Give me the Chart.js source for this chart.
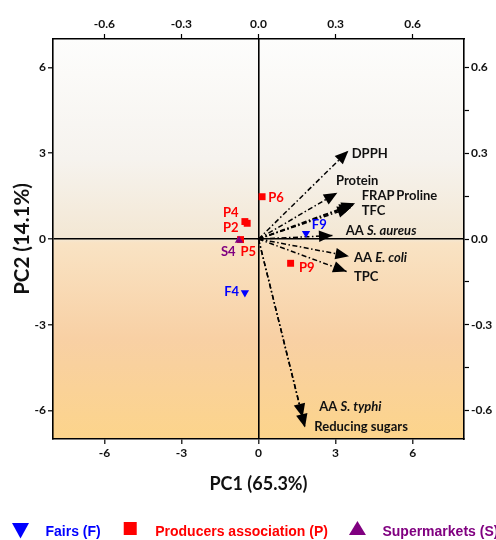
<!DOCTYPE html>
<html>
<head>
<meta charset="utf-8">
<script src="https://cdn.jsdelivr.net/npm/chart.js@4.4.1/dist/chart.umd.min.js"></script>
<style>
  html, body { margin: 0; padding: 0; background: #ffffff; }
  #wrap { width: 496px; height: 540px; position: relative; }
</style>
</head>
<body>
<div id="wrap"><canvas id="c" width="496" height="540"></canvas></div>
<script>
// ---------- DATA ----------
const pc1Ticks = [-6, -3, 0, 3, 6];
const pc2Ticks = [-6, -3, 0, 3, 6];
const loadXTicks = [-0.6, -0.3, 0, 0.3, 0.6];
const loadYTicks = [0.6, 0.45, 0.3, 0.15, 0, -0.15, -0.3, -0.45, -0.6];
const loadYMajor = [0.6, 0.3, 0, -0.3, -0.6];

const groupNames = ['Fairs (F)', 'Producers association (P)', 'Supermarkets (S)'];

const fairsNames = ['F9', 'F4'];
const fairsPC1 = [1.85, -0.53];
const fairsPC2 = [0.20, -1.88];

const prodNames = ['P6', 'P4', 'P2', 'P5', 'P9'];
const prodPC1 = [0.14, -0.53, -0.44, -0.70, 1.25];
const prodPC2 = [1.48, 0.61, 0.55, -0.02, -0.85];

const superNames = ['S4'];
const superPC1 = [-0.76];
const superPC2 = [-0.05];

const varNames = ['DPPH', 'Protein', 'FRAP', 'Proline', 'TFC', 'AA *S. aureus*', 'AA *E. coli*', 'TPC', 'AA *S. typhi*', 'Reducing sugars'];
const varPC1 = [0.350, 0.307, 0.376, 0.368, 0.360, 0.288, 0.352, 0.343, 0.172, 0.181];
const varPC2 = [0.309, 0.162, 0.125, 0.118, 0.110, 0.012, -0.060, -0.114, -0.624, -0.660];

// ---------- STYLE (label offsets in px) ----------
const varLabelOffset = {
  'DPPH': [3.3, 3.3], 'Protein': [-1.4, -12], 'FRAP': [6.6, -7.6], 'Proline': [43.3, -9.6],
  'TFC': [10.7, 3.1], 'AA *S. aureus*': [13.2, -4.9], 'AA *E. coli*': [5.1, 1.6],
  'TPC': [7.4, 5.1], 'AA *S. typhi*': [16.6, -10.6], 'Reducing sugars': [9.3, -0.9]
};
const pointLabelOffset = {
  'F9': [13.3, -8.3], 'F4': [-13.2, -1], 'P6': [14, 0.6], 'P4': [-14.2, -8.3],
  'P2': [-16.5, 5], 'P5': [7.8, 12.1], 'P9': [16.1, 5], 'S4': [-10.7, 11.3]
};
const colBlue = '#0000ff', colRed = '#ff0000', colPurple = '#800080';
const FONT = 'Lato, "Open Sans", sans-serif';

function pts(xs, ys) { return xs.map((x, i) => ({ x: x, y: ys[i] })); }

const datasets = [];
datasets.push({ label: groupNames[2], names: superNames, data: pts(superPC1, superPC2), pointStyle: 'triangle', rotation: 0, pointRadius: 4.8, backgroundColor: colPurple, borderColor: colPurple, borderWidth: 0, order: 1, group: true });
datasets.push({ label: groupNames[0], names: fairsNames, data: pts(fairsPC1, fairsPC2), pointStyle: 'triangle', rotation: 180, pointRadius: 4.8, backgroundColor: colBlue, borderColor: colBlue, borderWidth: 0, order: 2, group: true });
datasets.push({ label: groupNames[1], names: prodNames, data: pts(prodPC1, prodPC2), pointStyle: 'rect', pointRadius: 4.9, backgroundColor: colRed, borderColor: colRed, borderWidth: 0, order: 3, group: true });
varNames.forEach((n, i) => {
  datasets.push({ label: n, vector: true, data: [{ x: 0, y: 0 }, { x: varPC1[i], y: varPC2[i] }], xAxisID: 'x2', yAxisID: 'y2', showLine: true, pointRadius: 0, borderColor: '#000', borderWidth: 1.5, borderDash: [5, 2.5, 1.5, 2.5], order: 10 });
});

// ---------- PLUGINS ----------
const bgPlugin = {
  id: 'bg',
  beforeDraw(chart) {
    const { ctx, chartArea: a } = chart;
    const g = ctx.createLinearGradient(0, a.top, 0, a.bottom);
    g.addColorStop(0, '#fdfdfc');
    g.addColorStop(0.3, '#f6f3ee');
    g.addColorStop(0.5, '#f3e7d3');
    g.addColorStop(0.51, '#f9e3c4');
    g.addColorStop(0.75, '#f8d0a4');
    g.addColorStop(1, '#fcd48b');
    ctx.save();
    ctx.fillStyle = g;
    ctx.fillRect(a.left, a.top, a.right - a.left, a.bottom - a.top);
    ctx.restore();
  }
};

function drawRich(ctx, text, x, y, size) {
  const parts = text.split('*');
  let cx = x;
  parts.forEach((p, i) => {
    if (!p) return;
    ctx.font = (i % 2 === 1 ? 'italic ' : '') + 'bold ' + size + 'px ' + FONT;
    ctx.fillText(p, cx, y);
    cx += ctx.measureText(p).width;
  });
}

const overlayPlugin = {
  id: 'overlay',
  afterDatasetsDraw(chart) {
    const ctx = chart.ctx;
    ctx.save();
    chart.data.datasets.forEach((ds, di) => {
      const meta = chart.getDatasetMeta(di);
      if (ds.vector) {
        const p0 = meta.data[0], p1 = meta.data[1];
        const ang = Math.atan2(p1.y - p0.y, p1.x - p0.x);
        const L = 13.5, W = 5.8;
        ctx.fillStyle = '#000';
        ctx.beginPath();
        ctx.moveTo(p1.x, p1.y);
        ctx.lineTo(p1.x - L * Math.cos(ang) + W * Math.sin(ang), p1.y - L * Math.sin(ang) - W * Math.cos(ang));
        ctx.lineTo(p1.x - L * Math.cos(ang) - W * Math.sin(ang), p1.y - L * Math.sin(ang) + W * Math.cos(ang));
        ctx.closePath();
        ctx.fill();
        const off = varLabelOffset[ds.label] || [6, 0];
        ctx.fillStyle = '#111';
        ctx.textAlign = 'left';
        ctx.textBaseline = 'middle';
        drawRich(ctx, ds.label, p1.x + off[0], p1.y + off[1], 13);
      }
    });
    chart.data.datasets.forEach((ds, di) => {
      if (!ds.group) return;
      const meta = chart.getDatasetMeta(di);
      ctx.fillStyle = ds.backgroundColor;
      ctx.font = 'bold 13px ' + FONT;
      ctx.textAlign = 'center';
      ctx.textBaseline = 'middle';
      meta.data.forEach((el, k) => {
        const n = ds.names[k];
        const off = pointLabelOffset[n] || [10, 0];
        ctx.fillText(n, el.x + off[0], el.y + off[1]);
      });
    });
    ctx.restore();
  },
  afterDraw(chart) {
    const ctx = chart.ctx;
    const order = [groupNames[0], groupNames[1], groupNames[2]];
    const items = order.map(name => chart.data.datasets.find(d => d.group && d.label === name));
    ctx.save();
    ctx.font = 'bold 14px "Liberation Sans", Arial, sans-serif';
    const toText = 25, toNext = 29.5;
    let mc = 20.5;
    const yc = 531;
    items.forEach((d) => {
      const cx = mc;
      ctx.fillStyle = d.backgroundColor;
      ctx.beginPath();
      if (d.pointStyle === 'rect') {
        ctx.rect(cx - 6.5, yc - 9, 13, 13);
      } else if (d.rotation === 180) {
        ctx.moveTo(cx - 8.5, yc - 8); ctx.lineTo(cx + 8.5, yc - 8); ctx.lineTo(cx, yc + 7.5);
      } else {
        ctx.moveTo(cx - 8.5, yc + 4); ctx.lineTo(cx + 8.5, yc + 4); ctx.lineTo(cx, yc - 10);
      }
      ctx.closePath();
      ctx.fill();
      ctx.textAlign = 'left';
      ctx.textBaseline = 'middle';
      ctx.fillText(d.label, cx + toText, yc + 1);
      mc = cx + toText + ctx.measureText(d.label).width + toNext;
    });
    ctx.restore();
  }
};

function setTicks(vals) { return scale => { scale.ticks = vals.map(v => ({ value: v })); }; }
const tickFont = { family: FONT, size: 12, weight: 'bold' };
const borderOpt = { display: true, color: '#000', width: 1.6 };

new Chart(document.getElementById('c'), {
  type: 'scatter',
  data: { datasets: datasets },
  options: {
    responsive: false,
    animation: false,
    devicePixelRatio: 1,
    layout: { padding: { left: 0, right: 0, top: 0, bottom: 41 } },
    plugins: { legend: { display: false }, tooltip: { enabled: false } },
    scales: {
      x: {
        type: 'linear', position: 'bottom', min: -8, max: 8,
        afterBuildTicks: setTicks(pc1Ticks),
        afterFit: s => { s.height = 60; },
        ticks: { font: tickFont, color: '#111', padding: 2, maxRotation: 0, callback: v => String(v) },
        grid: { color: c => (c.tick && c.tick.value === 0 ? '#000' : 'rgba(0,0,0,0)'), lineWidth: 1.6, tickColor: '#000', tickLength: 5, tickWidth: 1.2 },
        border: borderOpt,
        title: { display: true, text: 'PC1 (65.3%)', color: '#111', font: { family: FONT, size: 18, weight: 'bold' }, padding: { top: 0, bottom: 4 } }
      },
      y: {
        type: 'linear', position: 'left', min: -7, max: 7,
        afterBuildTicks: setTicks(pc2Ticks),
        afterFit: s => { s.width = 53; },
        ticks: { font: tickFont, color: '#111', padding: 2, callback: v => String(v) },
        grid: { color: c => (c.tick && c.tick.value === 0 ? '#000' : 'rgba(0,0,0,0)'), lineWidth: 1.6, tickColor: '#000', tickLength: 5, tickWidth: 1.2 },
        border: borderOpt,
        title: { display: true, text: 'PC2 (14.1%)', color: '#111', font: { family: FONT, size: 20.5, weight: 'bold' }, padding: { top: 10, bottom: 0 } }
      },
      x2: {
        type: 'linear', position: 'top', min: -0.8, max: 0.8,
        afterBuildTicks: setTicks(loadXTicks),
        afterFit: s => { s.height = 39; },
        ticks: { font: tickFont, color: '#111', padding: 3, maxRotation: 0, callback: v => Number(v).toFixed(1) },
        grid: { drawOnChartArea: false, tickColor: '#000', tickLength: 5, tickWidth: 1.2 },
        border: borderOpt
      },
      y2: {
        type: 'linear', position: 'right', min: -0.7, max: 0.7,
        afterBuildTicks: setTicks(loadYTicks),
        afterFit: s => { s.width = 32; },
        ticks: { font: tickFont, color: '#111', padding: 2, callback: v => (loadYMajor.some(m => Math.abs(m - v) < 1e-9) ? Number(v).toFixed(1) : '') },
        grid: { drawOnChartArea: false, tickColor: '#000', tickLength: 5, tickWidth: 1.2 },
        border: borderOpt
      }
    }
  },
  plugins: [bgPlugin, overlayPlugin]
});
</script>
</body>
</html>
